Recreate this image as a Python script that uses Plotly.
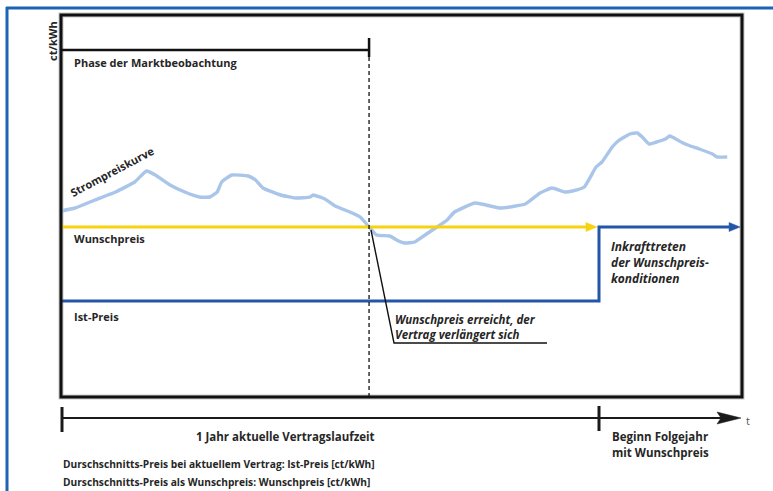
import plotly.graph_objects as go

# ---------------- data ----------------
# time in days since start of current contract, price in ct/kWh (schematic)
days = [0, 9.5, 23, 37, 50, 58, 64, 74, 84, 94, 101, 106, 109, 116, 127, 132, 137, 149, 159, 169,
        171, 179, 186, 196, 203, 209, 214, 223, 229, 233, 240, 247, 254, 262, 267, 281, 298, 315, 325, 333,
        342, 347, 355, 363, 367, 374, 378, 386, 391, 395, 399, 404, 410, 413, 416, 422, 427, 433, 442, 445, 452]
strompreis = [18.6, 18.9, 19.7, 20.5, 21.5, 22.6, 22.2, 21.2, 20.5, 20.0, 20.0, 20.5, 21.5, 22.2, 22.1, 21.7, 20.9, 20.2, 19.9, 20.0,
              20.2, 19.8, 19.1, 18.5, 18.0, 17.0, 16.2, 16.1, 15.6, 15.4, 15.5, 16.2, 16.9, 17.7, 18.5, 19.4, 18.9, 19.3, 20.4, 20.9,
              20.5, 20.6, 21.0, 23.0, 23.5, 25.0, 25.6, 26.3, 26.4, 25.9, 25.3, 25.5, 25.8, 26.1, 25.9, 25.4, 25.1, 24.8, 24.3, 24.0, 24.0]
wunschpreis = 17.0
ist_preis = 9.6
vertrag_tag = 209        # Wunschpreis erreicht
jahr_ende = 365          # Ende aktuelle Vertragslaufzeit
wunsch_pfeil_ende = 363.6
ist_pfeil_ende = 460.7
phase_hoehe = 34.7

# ---------------- geometry helpers ----------------
W, H = 773, 491
L, R, T, B = 61, 742, 15, 397
XMAX = (R - L) * 365 / 538
YMAX = (B - T) / 10.0
DX = XMAX / (R - L)   # days per pixel
DY = YMAX / (B - T)   # ct per pixel


def xp(px):
    return (px - L) / (R - L)


def yp(py):
    return (B - py) / (B - T)


YELLOW = "#f8d20f"
BLUE = "#2256a8"
LIGHT = "#a9c5ea"
FRAME = "#1e64b6"
TXT = "#262626"
FONT = "Open Sans"

fig = go.Figure()

fig.add_trace(go.Scatter(x=days, y=strompreis, mode="lines",
                         line=dict(color=LIGHT, width=3.4, shape="spline", smoothing=0.4),
                         hoverinfo="skip", showlegend=False))

head = 11  # arrowhead length px
fig.add_trace(go.Scatter(x=[0, wunsch_pfeil_ende - head * DX], y=[wunschpreis, wunschpreis], mode="lines",
                         line=dict(color=YELLOW, width=3.2), hoverinfo="skip", showlegend=False))
fig.add_trace(go.Scatter(x=[0, jahr_ende, jahr_ende, ist_pfeil_ende - head * DX],
                         y=[ist_preis, ist_preis, wunschpreis, wunschpreis], mode="lines",
                         line=dict(color=BLUE, width=3), hoverinfo="skip", showlegend=False))

shapes = []


def tri_data(xtip, y, color, length=11, half=4.5):
    xb = xtip - length * DX
    return dict(type="path", xref="x", yref="y",
                path=f"M {xtip} {y} L {xb} {y + half * DY} L {xb} {y - half * DY} Z",
                fillcolor=color, line=dict(color=color, width=0.5), layer="above")


shapes.append(tri_data(wunsch_pfeil_ende, wunschpreis, YELLOW))
shapes.append(tri_data(ist_pfeil_ende, wunschpreis, BLUE))

# plot frame with soft shadow
shapes.append(dict(type="rect", xref="paper", yref="paper", x0=0, x1=1, y0=0, y1=1,
                   line=dict(color="#c8c8c8", width=5), layer="below"))
shapes.append(dict(type="rect", xref="paper", yref="paper", x0=0, x1=1, y0=0, y1=1,
                   line=dict(color="#111111", width=3), layer="above"))

# phase bar
shapes.append(dict(type="line", xref="x", yref="y", x0=0, x1=vertrag_tag, y0=phase_hoehe, y1=phase_hoehe,
                   line=dict(color="#111111", width=2.5)))
shapes.append(dict(type="line", xref="x", yref="y", x0=vertrag_tag, x1=vertrag_tag,
                   y0=phase_hoehe + 1.2, y1=phase_hoehe - 0.7, line=dict(color="#111111", width=2.5)))
# dashed marker
shapes.append(dict(type="line", xref="x", yref="y", x0=vertrag_tag, x1=vertrag_tag,
                   y0=phase_hoehe - 0.7, y1=0, line=dict(color="#111111", width=1.3, dash="4px,3px")))
# leader line
shapes.append(dict(type="path", xref="paper", yref="paper",
                   path=f"M {xp(371)} {yp(230)} L {xp(394)} {yp(343)} L {xp(547)} {yp(343)}",
                   line=dict(color="#111111", width=1.4)))

# time axis
ty = yp(418)
shapes.append(dict(type="line", xref="paper", yref="paper", x0=xp(62), x1=xp(722), y0=ty, y1=ty,
                   line=dict(color="#1a1a1a", width=2.2)))
shapes.append(dict(type="path", xref="paper", yref="paper",
                   path=(f"M {xp(741)} {ty} L {xp(717)} {yp(412)} L {xp(721)} {ty} "
                         f"L {xp(717)} {yp(424)} Z"),
                   fillcolor="#1a1a1a", line=dict(color="#1a1a1a", width=0.5)))
shapes.append(dict(type="line", xref="paper", yref="paper", x0=xp(62), x1=xp(62), y0=yp(407), y1=yp(432),
                   line=dict(color="#1a1a1a", width=3)))
shapes.append(dict(type="line", xref="paper", yref="paper", x0=xp(599), x1=xp(599), y0=yp(406), y1=yp(431),
                   line=dict(color="#1a1a1a", width=3)))

# outer blue frame
shapes.append(dict(type="line", xref="paper", yref="paper", x0=xp(6), x1=xp(773), y0=yp(8), y1=yp(8),
                   line=dict(color=FRAME, width=3)))
shapes.append(dict(type="line", xref="paper", yref="paper", x0=xp(7), x1=xp(7), y0=yp(7), y1=yp(491),
                   line=dict(color=FRAME, width=3)))

annotations = []


def label(px, py, text, size=11, weight=700, style="normal", xanchor="left", yanchor="middle",
          angle=0, color=TXT, align="left"):
    annotations.append(dict(x=xp(px), y=yp(py), xref="paper", yref="paper", text=text, showarrow=False,
                            xanchor=xanchor, yanchor=yanchor, textangle=angle, align=align,
                            font=dict(family=FONT, size=size, color=color, weight=weight, style=style)))


label(52, 41, "ct/kWh", angle=-90, xanchor="center")
label(72, 62, "Phase der Marktbeobachtung")
label(112, 172, "Strompreiskurve", angle=-28, xanchor="center")
label(72, 238, "Wunschpreis")
label(72, 316, "Ist-Preis")
label(393, 319, "Wunschpreis erreicht, der", size=11.5, style="italic")
label(393, 334, "Vertrag verlängert sich", size=11.5, style="italic")
label(609, 246, "Inkrafttreten", size=12, style="italic")
label(609, 262, "der Wunschpreis-", size=12, style="italic")
label(609, 278, "konditionen", size=12, style="italic")
label(285, 437, "1 Jahr aktuelle Vertragslaufzeit", size=11.5, xanchor="center")
label(610, 437, "Beginn Folgejahr", size=11.5)
label(610, 452, "mit Wunschpreis", size=11.5)
label(748, 420, "t", weight=400, color="#555555", xanchor="center")
label(61, 464, "Durschschnitts-Preis bei aktuellem Vertrag: Ist-Preis [ct/kWh]", size=10.2)
label(61, 482, "Durschschnitts-Preis als Wunschpreis: Wunschpreis [ct/kWh]", size=10.2)

fig.update_layout(
    width=W, height=H,
    margin=dict(l=L, r=W - R, t=T, b=H - B, pad=0),
    paper_bgcolor="white", plot_bgcolor="white",
    xaxis=dict(range=[0, XMAX], visible=False, fixedrange=True),
    yaxis=dict(range=[0, YMAX], visible=False, fixedrange=True),
    shapes=shapes, annotations=annotations, showlegend=False,
)

fig.write_html("out.html", config={"displayModeBar": False},
               post_script="document.body.style.margin='0';document.body.style.overflow='hidden';")
